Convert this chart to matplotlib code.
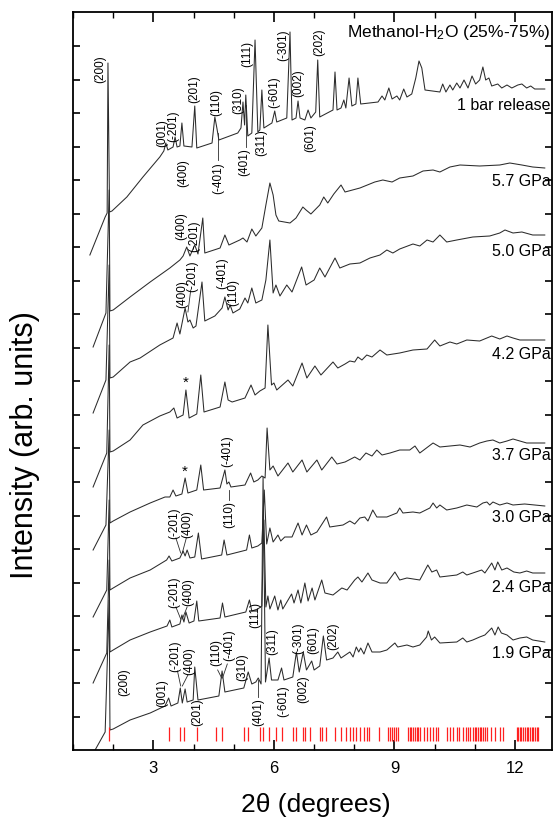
import numpy as np
import matplotlib
matplotlib.use("Agg")
import matplotlib.pyplot as plt
from matplotlib.ticker import MultipleLocator

plt.rcParams['font.family'] = ['Liberation Sans', 'DejaVu Sans']
plt.rcParams['mathtext.fontset'] = 'custom'
plt.rcParams['mathtext.rm'] = 'Liberation Sans'
plt.rcParams['mathtext.it'] = 'Liberation Sans:italic'

# ############ Datos (2theta en grados, intensidad apilada en unidades arb.)
p_1bar = [(1.42, 495), (1.80, 533), (1.85, 537), (1.87, 687), (1.91, 538), (1.97, 539), (2.34, 553),
          (2.74, 573), (3.16, 593), (3.26, 599), (3.31, 607), (3.36, 600), (3.49, 603), (3.54, 613),
          (3.59, 603), (3.66, 604), (3.71, 627), (3.76, 604), (3.96, 603), (4.03, 644), (4.08, 602),
          (4.46, 607), (4.53, 633), (4.58, 622), (4.63, 610), (5.10, 617), (5.18, 622), (5.23, 648),
          (5.27, 625), (5.30, 655), (5.35, 614), (5.45, 617), (5.53, 710), (5.60, 618), (5.65, 620),
          (5.70, 660), (5.75, 622), (5.95, 627), (6.02, 639), (6.07, 628), (6.32, 632), (6.40, 718),
          (6.45, 630), (6.55, 632), (6.60, 649), (6.65, 632), (6.77, 630), (6.85, 640), (6.92, 632),
          (7.04, 638), (7.09, 690), (7.14, 633), (7.47, 640), (7.52, 678), (7.57, 640), (7.67, 642),
          (7.74, 650), (7.79, 642), (7.87, 672), (7.94, 644), (8.04, 646), (8.09, 672), (8.16, 646),
          (8.59, 648), (8.69, 654), (8.76, 650), (8.86, 662), (8.94, 651), (9.06, 654), (9.13, 650),
          (9.23, 661), (9.31, 653), (9.43, 656), (9.53, 672), (9.61, 689), (9.68, 682), (9.76, 660),
          (10.13, 658), (10.20, 666), (10.28, 658), (10.38, 665), (10.45, 660), (10.55, 667),
          (10.63, 662), (10.73, 670), (10.83, 662), (10.93, 674), (11.02, 666), (11.12, 670),
          (11.20, 683), (11.27, 670), (11.35, 672), (11.42, 664), (11.57, 666), (11.67, 662),
          (11.80, 665), (11.92, 662), (12.07, 665), (12.17, 666), (12.29, 662), (12.39, 664),
          (12.49, 661), (12.74, 661)]

p_57 = [(1.50, 403), (1.82, 437), (1.90, 560), (1.92, 439), (2.00, 440), (2.42, 453), (2.92, 468),
        (3.41, 482), (3.66, 490), (3.74, 494), (3.83, 503), (3.91, 494), (4.03, 505), (4.11, 496),
        (4.23, 532), (4.28, 497), (4.66, 502), (4.78, 515), (4.88, 505), (5.15, 510), (5.23, 512),
        (5.33, 508), (5.45, 521), (5.55, 514), (5.70, 522), (5.80, 545), (5.90, 567), (5.98, 555),
        (6.05, 535), (6.12, 529), (6.40, 527), (6.55, 532), (6.72, 543), (6.80, 540), (6.92, 536),
        (7.14, 545), (7.24, 553), (7.34, 547), (7.49, 556), (7.67, 565), (7.77, 558), (8.14, 562),
        (8.51, 568), (8.71, 570), (8.94, 568), (9.13, 572), (9.46, 574), (9.71, 579), (9.96, 580),
        (10.13, 578), (10.38, 583), (10.63, 585), (11.12, 584), (11.62, 585), (11.87, 587),
        (12.17, 585), (12.44, 583), (12.74, 582)]

p_50 = [(1.50, 337), (1.82, 370), (1.90, 485), (1.92, 372), (2.00, 373), (2.42, 388), (2.67, 392),
        (3.16, 405), (3.49, 412), (3.59, 427), (3.66, 416), (3.79, 442), (3.86, 428), (3.91, 430),
        (3.99, 422), (4.06, 424), (4.21, 468), (4.28, 429), (4.53, 434), (4.71, 442), (4.78, 453),
        (4.86, 440), (4.91, 445), (4.98, 437), (5.15, 441), (5.28, 452), (5.35, 447), (5.45, 462),
        (5.55, 447), (5.70, 450), (5.80, 470), (5.90, 510), (5.98, 457), (6.05, 465), (6.15, 454),
        (6.32, 465), (6.45, 458), (6.69, 483), (6.80, 465), (7.00, 470), (7.14, 482), (7.27, 473),
        (7.52, 492), (7.64, 482), (7.89, 486), (8.14, 487), (8.39, 492), (8.64, 495), (8.81, 500),
        (8.96, 497), (9.13, 501), (9.46, 506), (9.63, 504), (9.81, 510), (9.96, 508), (10.13, 515),
        (10.30, 508), (10.55, 510), (10.95, 513), (11.37, 514), (11.62, 517), (11.75, 520),
        (11.95, 517), (12.17, 518), (12.44, 515), (12.74, 515)]

p_42 = [(1.50, 263), (1.84, 297), (1.90, 405), (1.92, 298), (2.00, 299), (2.42, 310), (2.74, 325),
        (3.16, 334), (3.41, 338), (3.51, 342), (3.59, 332), (3.74, 335), (3.81, 360), (3.89, 332),
        (4.08, 336), (4.18, 375), (4.26, 338), (4.66, 343), (4.78, 368), (4.86, 350), (4.96, 348),
        (5.28, 352), (5.43, 365), (5.53, 355), (5.65, 359), (5.78, 362), (5.85, 425), (5.94, 365),
        (6.00, 367), (6.07, 360), (6.35, 370), (6.47, 364), (6.70, 387), (6.82, 372), (7.02, 384),
        (7.17, 375), (7.47, 388), (7.59, 382), (7.77, 386), (7.89, 389), (8.01, 388), (8.09, 393),
        (8.19, 390), (8.31, 395), (8.44, 393), (8.64, 400), (8.81, 395), (9.13, 397), (9.46, 400),
        (9.81, 401), (10.00, 410), (10.13, 404), (10.38, 408), (10.55, 406), (10.80, 410),
        (11.12, 409), (11.42, 414), (11.62, 411), (11.80, 414), (11.95, 412), (12.12, 410),
        (12.44, 410), (12.74, 410)]

p_37 = [(1.50, 200), (1.82, 225), (1.90, 320), (1.92, 227), (2.00, 229), (2.42, 238), (2.92, 247),
        (3.29, 253), (3.41, 253), (3.49, 260), (3.56, 254), (3.71, 256), (3.79, 272), (3.86, 257),
        (4.08, 260), (4.18, 285), (4.25, 260), (4.66, 262), (4.78, 280), (4.83, 266), (4.88, 268),
        (4.93, 263), (5.28, 265), (5.42, 277), (5.50, 268), (5.60, 270), (5.70, 274), (5.78, 272),
        (5.83, 322), (5.90, 280), (5.98, 284), (6.10, 274), (6.35, 287), (6.47, 278), (6.70, 290),
        (6.82, 278), (7.07, 290), (7.19, 280), (7.44, 293), (7.57, 286), (7.77, 288), (8.01, 293),
        (8.14, 290), (8.29, 297), (8.44, 294), (8.56, 300), (8.69, 295), (8.89, 297), (9.13, 300),
        (9.38, 300), (9.51, 304), (9.63, 297), (9.96, 307), (10.13, 303), (10.63, 305),
        (10.88, 303), (11.12, 307), (11.30, 309), (11.45, 310), (11.62, 307), (11.80, 309),
        (11.95, 311), (12.29, 307), (12.74, 307)]

p_30 = [(1.50, 133), (1.84, 160), (1.90, 250), (1.92, 160), (2.00, 162), (2.42, 172), (2.92, 180),
        (3.33, 190), (3.39, 194), (3.46, 189), (3.66, 192), (3.74, 199), (3.79, 194), (3.84, 200),
        (3.91, 192), (4.03, 193), (4.12, 217), (4.20, 191), (4.70, 195), (4.76, 210), (4.83, 195),
        (5.32, 200), (5.39, 215), (5.45, 202), (5.60, 204), (5.70, 207), (5.76, 260), (5.82, 206),
        (5.90, 222), (5.98, 208), (6.10, 215), (6.17, 209), (6.27, 213), (6.45, 213), (6.60, 227),
        (6.70, 215), (6.81, 225), (6.92, 215), (7.07, 218), (7.31, 233), (7.39, 223), (7.72, 225),
        (7.89, 229), (8.01, 226), (8.14, 232), (8.26, 233), (8.34, 229), (8.46, 240), (8.56, 233),
        (8.81, 233), (9.06, 237), (9.13, 242), (9.21, 237), (9.46, 238), (9.63, 237), (9.88, 242),
        (9.96, 247), (10.05, 242), (10.13, 245), (10.30, 240), (10.55, 242), (10.80, 245),
        (11.05, 243), (11.20, 247), (11.30, 248), (11.37, 245), (11.45, 248), (11.62, 245),
        (11.80, 247), (11.95, 245), (12.24, 246), (12.74, 244)]

p_24 = [(1.50, 67), (1.84, 97), (1.90, 190), (1.92, 98), (2.00, 100), (2.42, 110), (2.92, 118),
        (3.34, 124), (3.41, 130), (3.46, 123), (3.66, 126), (3.71, 135), (3.76, 128), (3.81, 138),
        (3.89, 127), (4.01, 129), (4.08, 149), (4.13, 129), (4.66, 132), (4.72, 147), (4.78, 133),
        (5.30, 138), (5.39, 150), (5.45, 139), (5.60, 141), (5.70, 144), (5.75, 230), (5.80, 143),
        (5.85, 154), (5.90, 141), (6.02, 154), (6.10, 140), (6.17, 150), (6.22, 141), (6.44, 156),
        (6.50, 147), (6.60, 160), (6.67, 147), (6.77, 167), (6.85, 149), (6.95, 162), (7.02, 150),
        (7.19, 170), (7.27, 157), (7.47, 155), (7.69, 162), (7.82, 160), (8.01, 170), (8.09, 173),
        (8.19, 168), (8.34, 177), (8.44, 170), (8.64, 167), (8.81, 167), (9.01, 178), (9.13, 170),
        (9.31, 172), (9.63, 170), (9.83, 185), (9.93, 178), (10.05, 180), (10.13, 173),
        (10.55, 175), (10.70, 178), (10.80, 175), (10.95, 177), (11.17, 180), (11.25, 177),
        (11.42, 187), (11.50, 180), (11.57, 188), (11.67, 180), (11.80, 182), (11.97, 178),
        (12.12, 177), (12.29, 179), (12.44, 177), (12.74, 177)]

p_19 = [(1.55, 0), (1.80, 18), (1.90, 150), (1.92, 20), (2.00, 21), (2.42, 30), (2.92, 37),
        (3.29, 44), (3.38, 52), (3.44, 44), (3.61, 47), (3.67, 62), (3.72, 47), (3.79, 61),
        (3.84, 48), (3.99, 50), (4.03, 83), (4.11, 50), (4.63, 54), (4.71, 79), (4.78, 58),
        (5.25, 62), (5.36, 78), (5.45, 66), (5.55, 68), (5.61, 72), (5.68, 66), (5.73, 273),
        (5.79, 68), (5.88, 92), (5.94, 70), (6.10, 70), (6.19, 82), (6.25, 70), (6.47, 73),
        (6.56, 98), (6.63, 78), (6.73, 98), (6.81, 80), (6.94, 89), (7.00, 80), (7.14, 84),
        (7.23, 114), (7.31, 90), (7.47, 92), (7.59, 98), (7.67, 92), (7.89, 98), (7.97, 93),
        (8.05, 103), (8.11, 98), (8.16, 102), (8.24, 96), (8.34, 107), (8.44, 98), (8.64, 98),
        (8.81, 100), (9.01, 107), (9.08, 103), (9.31, 105), (9.46, 103), (9.63, 105), (9.80, 113),
        (9.84, 119), (9.92, 110), (10.00, 113), (10.13, 107), (10.55, 108), (10.70, 112),
        (10.80, 108), (10.95, 110), (11.12, 113), (11.25, 115), (11.42, 122), (11.50, 115),
        (11.58, 123), (11.66, 117), (11.80, 115), (11.95, 110), (12.12, 112), (12.29, 113),
        (12.44, 110), (12.74, 108)]

trazas = [p_19, p_24, p_30, p_37, p_42, p_50, p_57, p_1bar]

# Posiciones de reflexiones calculadas (marcas rojas)
ref_pos = [1.90, 3.40, 3.66, 3.76, 4.08, 4.55, 4.72, 5.26, 5.36, 5.65, 5.73, 5.88, 6.05, 6.19,
           6.47, 6.55, 6.73, 6.77, 6.91, 7.14, 7.19, 7.29, 7.52, 7.66, 7.79, 7.89, 7.97, 8.04,
           8.14, 8.24, 8.31, 8.37, 8.62, 8.84, 8.89, 8.94, 8.99, 9.04, 9.09, 9.34, 9.38, 9.42,
           9.46, 9.50, 9.55, 9.59, 9.63, 9.73, 9.80, 9.88, 9.96, 10.03, 10.08, 10.30, 10.38,
           10.46, 10.55, 10.60, 10.70, 10.77, 10.83, 10.89, 10.95, 11.00, 11.04, 11.08, 11.12,
           11.16, 11.20, 11.25, 11.30, 11.41, 11.49, 11.62, 11.70, 12.04, 12.08, 12.12, 12.16,
           12.20, 12.25, 12.29, 12.33, 12.37, 12.41, 12.45, 12.49, 12.54, 12.58]
ref_y = (9, 23)

# Etiquetas de presion (x derecha, y)
presiones = [("1 bar release", 645), ("5.7 GPa", 568), ("5.0 GPa", 498), ("4.2 GPa", 395),
             ("3.7 GPa", 295), ("3.0 GPa", 233), ("2.4 GPa", 162), ("1.9 GPa", 97)]

# Indices de Miller (texto, x, y)
hkl = [("(200)", 1.67, 681), ("(001)", 3.21, 617), ("(-201)", 3.49, 624), ("(400)", 3.74, 577),
       ("(201)", 4.01, 661), ("(110)", 4.57, 648), ("(-401)", 4.61, 572), ("(310)", 5.10, 650),
       ("(401)", 5.26, 588), ("(111)", 5.33, 696), ("(311)", 5.69, 607), ("(-601)", 6.02, 658),
       ("(-301)", 6.22, 705), ("(002)", 6.60, 667), ("(601)", 6.90, 612), ("(202)", 7.14, 708),
       ("(400)", 3.70, 524), ("(-201)", 4.01, 514),
       ("(400)", 3.71, 456), ("(-201)", 3.97, 474), ("(-401)", 4.71, 477), ("(110)", 5.00, 458),
       ("(-401)", 4.84, 299), ("(110)", 4.88, 236),
       ("(-201)", 3.51, 227), ("(400)", 3.84, 226),
       ("(-201)", 3.51, 158), ("(400)", 3.86, 158),
       ("(200)", 2.27, 68), ("(001)", 3.21, 57), ("(-201)", 3.54, 94), ("(400)", 3.89, 89),
       ("(201)", 4.08, 38), ("(110)", 4.56, 97), ("(-401)", 4.88, 105), ("(310)", 5.20, 83),
       ("(111)", 5.53, 135), ("(401)", 5.60, 38), ("(311)", 5.95, 108), ("(-601)", 6.22, 49),
       ("(-301)", 6.60, 112), ("(002)", 6.72, 61), ("(601)", 6.97, 110), ("(202)", 7.47, 114)]

estrellas = [(3.81, 367), (3.79, 278)]

# Lineas guia de las etiquetas
guias = [((4.60, 617), (4.60, 590)), ((5.30, 645), (5.30, 603)),
         ((3.93, 460), (3.86, 438)),
         ((4.88, 250), (4.88, 260)),
         ((3.56, 212), (3.68, 197)), ((3.82, 212), (3.72, 197)),
         ((3.56, 143), (3.68, 131)), ((3.84, 143), (3.72, 131)),
         ((3.60, 79), (3.68, 64)), ((3.86, 75), (3.72, 64)),
         ((4.60, 80), (4.70, 72)), ((4.84, 86), (4.72, 72)),
         ((5.61, 53), (5.61, 70))]

# ############ Figura
fig = plt.figure(figsize=(5.53, 8.21), dpi=100)
ax = fig.add_axes([73 / 553, 1 - 750 / 821, 479 / 553, 738 / 821])

for tr in trazas:
    xy = np.array(tr)
    ax.plot(xy[:, 0], xy[:, 1], color='#2b2b2b', lw=0.75)

ax.vlines(ref_pos, ref_y[0], ref_y[1], colors='#ff2020', lw=0.9)

for txt, y in presiones:
    ax.text(12.88, y, txt, ha='right', va='center', fontsize=11.5)
ax.text(12.88, 717, 'Methanol-H$_2$O (25%-75%)', ha='right', va='center', fontsize=12.5)

for txt, x, y in hkl:
    ax.text(x, y, txt, rotation=90, ha='center', va='center', fontsize=8.5)
for x, y in estrellas:
    ax.text(x, y, '*', ha='center', va='center', fontsize=11)
for (x1, y1), (x2, y2) in guias:
    ax.plot([x1, x2], [y1, y2], color='#2b2b2b', lw=0.6)

ax.set_xlim(1.0, 12.92)
ax.set_ylim(0, 738)
ax.xaxis.set_major_locator(MultipleLocator(3))
ax.xaxis.set_minor_locator(MultipleLocator(1))
ax.set_yticks(np.arange(1, 22) * 33.5)
ax.set_yticklabels([])
ax.tick_params(axis='x', which='major', direction='in', length=7, width=1.2,
               top=True, labelsize=12, pad=8)
ax.tick_params(axis='x', which='minor', direction='in', length=4, width=1.0, top=True)
ax.tick_params(axis='y', which='major', direction='in', length=5, width=1.2, right=True)
for s in ax.spines.values():
    s.set_linewidth(1.3)

fig.text(25 / 553, 1 - 445 / 821, 'Intensity (arb. units)', rotation=90,
         ha='center', va='center', fontsize=22)
fig.text(316 / 553, 1 - 805 / 821, '2\u03b8 (degrees)', ha='center', va='center', fontsize=19)

fig.savefig('out.png', dpi=100)
